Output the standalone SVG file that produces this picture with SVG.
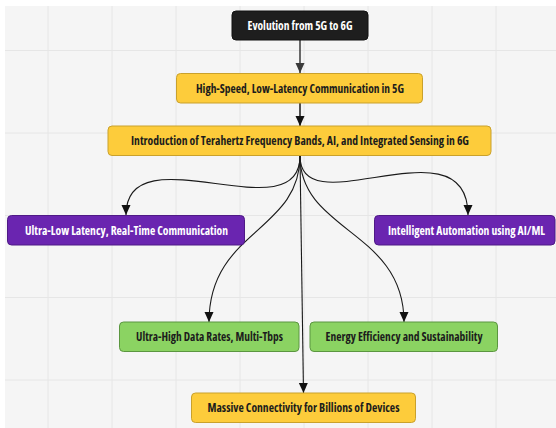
<svg xmlns="http://www.w3.org/2000/svg" width="556" height="428" viewBox="0 0 556 428">
  <defs>
    <marker id="arr" markerUnits="userSpaceOnUse" markerWidth="10" markerHeight="10" viewBox="0 0 10 10" refX="10" refY="5" orient="auto">
      <path d="M0,0.5 L10,5 L0,9.5 z" fill="#111"/>
    </marker>
    <marker id="arrg" markerUnits="userSpaceOnUse" markerWidth="10" markerHeight="10" viewBox="0 0 10 10" refX="10" refY="5" orient="auto">
      <path d="M0,0.5 L10,5 L0,9.5 z" fill="#3a3a3a"/>
    </marker>
  </defs>
  <style>
    .grid line { stroke: #e6e6e6; stroke-width: 1; }
    .lbl { font-family: "Open Sans", "Noto Sans", "Liberation Sans", sans-serif; font-weight: 700; font-size: 12.5px; font-stretch: condensed; text-anchor: middle; }
    .dark { fill: #1c1c1c; }
    .light { fill: #ffffff; }
    .black { fill: #1e1e1e; stroke: #111; stroke-width: 1; }
    .yellow { fill: #fdcc3b; stroke: #c9a12c; stroke-width: 1; }
    .purple { fill: #6a25b0; stroke: #4f1a86; stroke-width: 1; }
    .green { fill: #8bd362; stroke: #5b9640; stroke-width: 1; }
    .conn path, .conn line { fill: none; stroke: #1a1a1a; stroke-width: 1.1; }
  </style>
  <rect x="0" y="0" width="556" height="428" fill="#ffffff"/>
  <rect x="5" y="6" width="551" height="422" fill="#f5f5f5"/>
  <g class="grid">
    <line x1="48" y1="6" x2="48" y2="428"/>
    <line x1="112" y1="6" x2="112" y2="428"/>
    <line x1="176" y1="6" x2="176" y2="428"/>
    <line x1="240" y1="6" x2="240" y2="428"/>
    <line x1="304" y1="6" x2="304" y2="428"/>
    <line x1="368" y1="6" x2="368" y2="428"/>
    <line x1="432" y1="6" x2="432" y2="428"/>
    <line x1="496" y1="6" x2="496" y2="428"/>
    <line x1="5" y1="50.5" x2="556" y2="50.5"/>
    <line x1="5" y1="133" x2="556" y2="133"/>
    <line x1="5" y1="215.5" x2="556" y2="215.5"/>
    <line x1="5" y1="297.5" x2="556" y2="297.5"/>
    <line x1="5" y1="380" x2="556" y2="380"/>
  </g>
  <g class="conn">
    <line x1="300" y1="40" x2="300" y2="73" style="stroke:#3a3a3a;stroke-width:1.5" marker-end="url(#arrg)"/>
    <line x1="300" y1="103" x2="300" y2="126" style="stroke-width:1.5" marker-end="url(#arr)"/>
    <path d="M300,156 C300,235 126,130 126,215" marker-end="url(#arr)"/>
    <path d="M300,156 C300,228 468,118 468,215" marker-end="url(#arr)"/>
    <path d="M300,156 C300,232 209,230 209,322" marker-end="url(#arr)"/>
    <path d="M300,156 C300,232 404,230 404,322" marker-end="url(#arr)"/>
    <path d="M300,156 L303.5,393" marker-end="url(#arr)"/>
  </g>
  <g id="n1">
    <rect class="black" x="232" y="11" width="136" height="29" rx="4"/>
    <text class="lbl light" x="300" y="29.8" textLength="105" lengthAdjust="spacingAndGlyphs">Evolution from 5G to 6G</text>
  </g>
  <g id="n2">
    <rect class="yellow" x="176.5" y="73.5" width="246" height="29.5" rx="4"/>
    <text class="lbl dark" x="300" y="92.8" textLength="208" lengthAdjust="spacingAndGlyphs">High-Speed, Low-Latency Communication in 5G</text>
  </g>
  <g id="n3">
    <rect class="yellow" x="108" y="126" width="383" height="29.5" rx="4"/>
    <text class="lbl dark" x="300" y="145.3" textLength="338" lengthAdjust="spacingAndGlyphs">Introduction of Terahertz Frequency Bands, AI, and Integrated Sensing in 6G</text>
  </g>
  <g id="n4">
    <rect class="purple" x="7.5" y="215.5" width="237" height="29.5" rx="4"/>
    <text class="lbl light" x="126.5" y="234.8" textLength="203" lengthAdjust="spacingAndGlyphs">Ultra-Low Latency, Real-Time Communication</text>
  </g>
  <g id="n5">
    <rect class="purple" x="374.5" y="215.5" width="180.5" height="29.5" rx="4"/>
    <text class="lbl light" x="466.5" y="234.8" textLength="157" lengthAdjust="spacingAndGlyphs">Intelligent Automation using AI/ML</text>
  </g>
  <g id="n6">
    <rect class="green" x="119.5" y="322" width="179.5" height="29.5" rx="4"/>
    <text class="lbl dark" x="209.5" y="341.3" textLength="147" lengthAdjust="spacingAndGlyphs">Ultra-High Data Rates, Multi-Tbps</text>
  </g>
  <g id="n7">
    <rect class="green" x="310" y="322" width="187.5" height="29.5" rx="4"/>
    <text class="lbl dark" x="404" y="341.3" textLength="157" lengthAdjust="spacingAndGlyphs">Energy Efficiency and Sustainability</text>
  </g>
  <g id="n8">
    <rect class="yellow" x="191.5" y="393" width="224" height="29.5" rx="4"/>
    <text class="lbl dark" x="303.5" y="412.3" textLength="192" lengthAdjust="spacingAndGlyphs">Massive Connectivity for Billions of Devices</text>
  </g>
</svg>
